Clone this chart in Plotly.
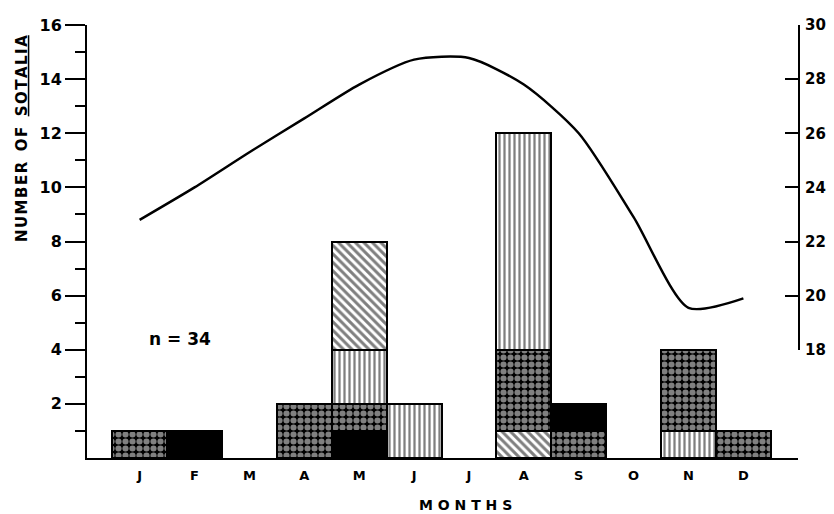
import plotly.graph_objects as go

# ---------------- data ----------------
months = ["J", "F", "M", "A", "M", "J", "J", "A", "S", "O", "N", "D"]
crosshatch = [1, 0, 0, 2, 1, 0, 0, 3, 1, 0, 3, 1]
solid = [0, 1, 0, 0, 1, 0, 0, 0, 1, 0, 0, 0]
vertical = [0, 0, 0, 0, 2, 2, 0, 8, 0, 0, 1, 0]
diagonal = [0, 0, 0, 0, 4, 0, 0, 1, 0, 0, 0, 0]
# bottom -> top order of the stacked segments in each month
stack_order = [
    ["crosshatch"],
    ["solid"],
    [],
    ["crosshatch"],
    ["solid", "crosshatch", "vertical", "diagonal"],
    ["vertical"],
    [],
    ["diagonal", "crosshatch", "vertical"],
    ["crosshatch", "solid"],
    [],
    ["vertical", "crosshatch"],
    ["crosshatch"],
]
temperature = [22.8, 24.0, 25.3, 26.55, 27.8, 28.72, 28.78, 27.8, 26.0, 22.9, 19.55, 19.9]
count_ticks = [2, 4, 6, 8, 10, 12, 14, 16]
count_minor_ticks = [1, 3, 5, 7, 9, 11, 13, 15]
temp_ticks = [18, 20, 22, 24, 26, 28, 30]
sample_label = "n = 34"
y_title_words = ["NUMBER", "OF", "SOTALIA"]
x_title = "MONTHS"

series = {"crosshatch": crosshatch, "solid": solid, "vertical": vertical, "diagonal": diagonal}

# ---------------- styles ----------------
FONT = "DejaVu Sans"
styles = {
    "crosshatch": dict(color="black",
                       pattern=dict(shape=".", fgcolor="white", bgcolor="black", size=7, solidity=0.6)),
    "solid": dict(color="black"),
    "vertical": dict(color="white",
                     pattern=dict(shape="|", fgcolor="black", bgcolor="white", size=5, solidity=0.45)),
    "diagonal": dict(color="white",
                     pattern=dict(shape="\\", fgcolor="black", bgcolor="white", size=6, solidity=0.5)),
}

# page body has an 8px margin: compensate so the plot area sits where it should
OFF = 8
PL, PR, PT, PB = 87, 803, 16, 458   # plot area in page pixels
W, H = 834 - OFF, 514 - OFF

x = list(range(len(months)))

fig = go.Figure()

for name, vals in series.items():
    ys, bases = [], []
    for i, v in enumerate(vals):
        if v == 0:
            ys.append(None)
            bases.append(None)
            continue
        b = 0
        for other in stack_order[i]:
            if other == name:
                break
            b += series[other][i]
        ys.append(v)
        bases.append(b)
    fig.add_trace(go.Bar(
        x=x, y=ys, base=bases, width=1.0, name=name,
        marker=dict(line=dict(color="black", width=2), **styles[name]),
        showlegend=False,
    ))

fig.add_trace(go.Scatter(
    x=x, y=temperature, yaxis="y2", mode="lines",
    line=dict(color="black", width=2.5, shape="spline", smoothing=0.7),
    showlegend=False,
))

fig.add_annotation(
    x=0.74, y=4.38, xref="x", yref="y", text=sample_label, showarrow=False,
    font=dict(family=FONT, size=17, color="black", weight="bold"),
)

hs = "\u200a"
w1, w2, w3 = (hs.join(w) for w in y_title_words)
y_title = f"{w1}  {w2}  <u>{w3}</u>"

pw, ph = PR - PL, PB - PT
fig.add_annotation(
    xref="paper", yref="paper", x=(21 - PL) / pw, y=(PB - 132) / ph,
    text=y_title, textangle=-90, showarrow=False, xanchor="center", yanchor="middle",
    font=dict(family=FONT, size=15, color="black", weight="bold"),
)

fig.add_annotation(
    xref="paper", yref="paper", x=(468 - PL) / pw, y=(PB - 506) / ph,
    text=" ".join(x_title), showarrow=False, xanchor="center", yanchor="middle",
    font=dict(family=FONT, size=14, color="black", weight="bold"),
)

fig.update_layout(
    width=W, height=H,
    margin=dict(l=PL - OFF, r=OFF + W - PR, t=PT - OFF, b=OFF + H - PB),
    paper_bgcolor="white", plot_bgcolor="rgba(0,0,0,0)",
    barmode="overlay", bargap=0,
    xaxis=dict(
        range=[-0.959, 11.995], tickmode="array", tickvals=x, ticktext=months,
        showline=True, linecolor="black", linewidth=2, showgrid=False, zeroline=False,
        ticks="outside", ticklen=4, tickcolor="rgba(0,0,0,0)",
        tickfont=dict(family=FONT, size=13, color="black", weight="bold"),
    ),
    yaxis=dict(
        range=[0, 16], tickmode="array", tickvals=count_ticks,
        showline=True, linecolor="black", linewidth=2, showgrid=False, zeroline=False,
        ticks="outside", ticklen=20, tickwidth=2, tickcolor="black",
        minor=dict(tickmode="array", tickvals=count_minor_ticks, ticks="outside",
                   ticklen=10, tickwidth=2, tickcolor="black", showgrid=False),
        tickfont=dict(family=FONT, size=16, color="black", weight="bold"),
        ticklabeloverflow="allow",
    ),
    yaxis2=dict(
        range=[18, 30], domain=[0.25, 1], anchor="x", side="right",
        tickmode="array", tickvals=temp_ticks,
        showline=True, linecolor="black", linewidth=2, showgrid=False, zeroline=False,
        ticks="inside", ticklen=13, tickwidth=2, tickcolor="black",
        tickfont=dict(family=FONT, size=15, color="black", weight="bold"),
        ticklabeloverflow="allow", ticklabelstandoff=2,
    ),
)

fig.write_html("out.html")
